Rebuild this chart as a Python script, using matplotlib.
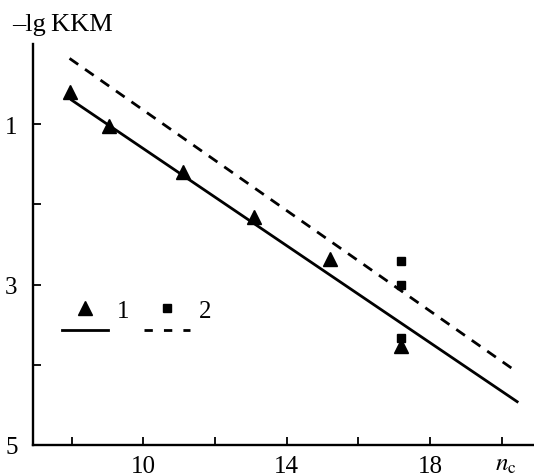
import matplotlib
matplotlib.use("Agg")
from matplotlib import pyplot as plt
from matplotlib.lines import Line2D

plt.rcParams['font.family'] = ['Liberation Serif', 'DejaVu Serif']
plt.rcParams['mathtext.fontset'] = 'stix'

# series 1 (triangles)
n1 = [7.95, 9.05, 11.1, 13.1, 15.2, 17.2]
lg1 = [0.60, 1.02, 1.59, 2.16, 2.68, 3.76]
# series 2 (squares)
n2 = [17.2, 17.2, 17.2]
lg2 = [2.71, 3.0, 3.66]
# fitted lines (end points)
fit1_n = [8.0, 20.43]
fit1_lg = [0.70, 4.46]
fit2_n = [7.94, 20.3]
fit2_lg = [0.18, 4.05]

x_ticks = [8, 10, 12, 14, 16, 18, 20]
x_labels = ['', '10', '', '14', '', '18', '']
y_ticks = [1, 2, 3, 4, 5]
y_labels = ['1', '', '3', '', '5']

fig = plt.figure(figsize=(5.34, 4.77), dpi=100)
ax = fig.add_axes([0.0618, 0.065, 0.9382, 0.8407])

ax.plot(fit1_n, fit1_lg, color='black', lw=2)
ax.plot(fit2_n, fit2_lg, color='black', lw=2, dashes=(3.8, 3.0))
ax.plot(n1, lg1, '^', color='black', ms=9.5, ls='none')
ax.plot(n2, lg2, 's', color='black', ms=5.5, ls='none')

ax.set_xlim(6.92, 20.9)
ax.set_ylim(5, 0)
ax.set_xticks(x_ticks)
ax.set_xticklabels(x_labels)
ax.set_yticks(y_ticks)
ax.set_yticklabels(y_labels)
ax.tick_params(direction='in', length=6, width=1.3, labelsize=18)
ax.tick_params(axis='x', pad=7)
ax.tick_params(axis='y', pad=11)
for s in ['top', 'right']:
    ax.spines[s].set_visible(False)
for s in ['left', 'bottom']:
    ax.spines[s].set_linewidth(1.7)

ax.text(0.922, -0.048, '$n_\\mathrm{c}$', transform=ax.transAxes,
        fontsize=18, ha='left', va='center')
fig.text(0.022, 0.947, '\u2013lg\u2009KKM', fontsize=19, ha='left', va='center',
         family=['Liberation Serif', 'DejaVu Serif'])

handles = [
    Line2D([], [], marker='^', color='black', ls='none', ms=9.5),
    Line2D([], [], color='black', lw=2),
    Line2D([], [], marker='s', color='black', ls='none', ms=5.5),
    Line2D([], [], color='black', lw=2, dashes=(3.0, 4.0)),
]
ax.legend(handles, ['1', '', '2', ''], ncol=2, frameon=False, fontsize=18,
          handlelength=1.85, handletextpad=0.35, columnspacing=0.6,
          labelspacing=0.0, loc='upper left', bbox_to_anchor=(0.012, 0.42))

fig.savefig('out.png', dpi=100)
